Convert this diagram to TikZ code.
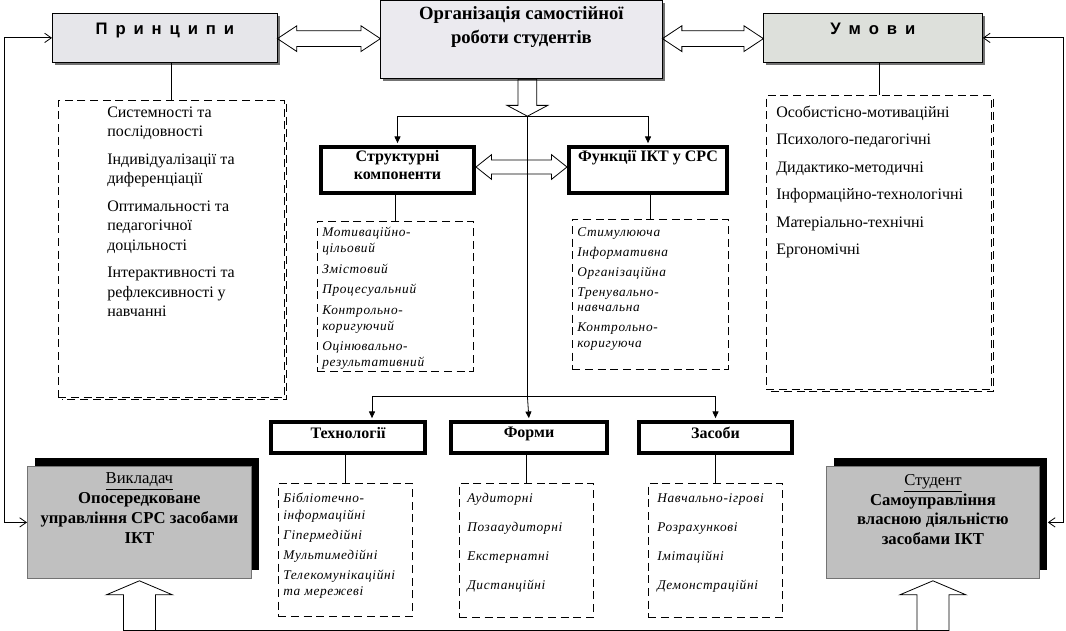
\documentclass[tikz,border=0pt]{standalone}
\usepackage{fontspec}
\setmainfont{Liberation Serif}
\newfontfamily\headsans[WordSpace=1.7]{Liberation Sans}
\newfontfamily\listserif[LetterSpace=5]{Liberation Serif}
\usetikzlibrary{positioning,calc,shapes.arrows,shadows,arrows.meta}
\definecolor{titlegray}{HTML}{EBEAEF}
\definecolor{princgray}{HTML}{E6E6EA}
\definecolor{umovygray}{HTML}{DDE0DB}
\definecolor{actorgray}{HTML}{C0C0C0}
\tikzset{
  boxframe/.style={draw, line width=0.6pt, inner sep=0pt, anchor=north west},
  headbox/.style={boxframe, fill=#1, drop shadow={shadow xshift=2pt, shadow yshift=-2pt, fill=black!55, opacity=1}},
  thickbox/.style={boxframe, line width=3pt},
  dashbox/.style={boxframe, dash pattern=on 6pt off 3.5pt},
  dashshadow/.style={line width=1.4pt, dash pattern=on 6pt off 3.5pt},
  actorbox/.style={boxframe, draw=black!55, fill=actorgray, drop shadow={shadow xshift=6pt, shadow yshift=6pt, fill=black, opacity=1}},
  sanshead/.style={inner sep=0pt, font=\headsans\bfseries\fontsize{12.5}{14}\selectfont},
  boldtext/.style={inner sep=0pt, align=center, font=\bfseries\fontsize{12}{13.5}\selectfont},
  actortext/.style={inner sep=0pt, align=center, font=\fontsize{12.5}{14.8}\selectfont},
  plainlist/.style={inner sep=0pt, align=left, font=\fontsize{12}{14.6}\selectfont},
  itlist/.style={inner sep=0pt, align=left, font=\listserif\itshape\fontsize{10}{#1}\selectfont},
  connector/.style={line width=0.6pt},
  branch/.style={line width=0.6pt, shorten >=1.4pt, -{Triangle[length=5pt,width=4.5pt]}},
  feedback/.style={line width=0.6pt, {Straight Barb[length=5pt,width=7pt]}-{Straight Barb[length=5pt,width=7pt]}},
  blockarrow/.style={draw, line width=0.6pt, inner xsep=0pt, inner ysep=#1},
  blockline/.style={line width=0.6pt}
}
\begin{document}
\begin{tikzpicture}[x=0.75pt, y=0.75pt]
\useasboundingbox (0,0) rectangle (1066,-631);
% top row
\node[headbox=princgray, minimum width=168.75pt, minimum height=36.75pt] (princ) at (52,-13) {};
\node[headbox=titlegray, minimum width=211.5pt, minimum height=58.5pt] (title) at (380,0) {};
\node[headbox=umovygray, minimum width=164.25pt, minimum height=36.75pt] (umovy) at (763,-13) {};
\node[sanshead, below=7.5pt of princ.north] (princtext) {П р и н ц и п и};
\node[boldtext, font=\bfseries\fontsize{14}{18}\selectfont, below=5pt of title.north] (titletext) {Організація самостійної\\роботи студентів};
\node[sanshead, below=7pt of umovy.north] (umovytext) {У м о в и};
\node[blockarrow=5.6pt, double arrow, double arrow head extend=3.75pt, double arrow tip angle=67,
      minimum height=77.25pt, minimum width=18.75pt] (arrleft) at ($(princ.east)!.5!(title.west)$) {};
\node[blockarrow=5.6pt, double arrow, double arrow head extend=3.75pt, double arrow tip angle=67,
      minimum height=75.75pt, minimum width=18.75pt] (arrright) at ($(title.east)!.5!(umovy.west)$) {};
\node[blockarrow=6.75pt, single arrow, rotate=-90, anchor=tail, single arrow head extend=8.25pt, single arrow tip angle=124,
      minimum height=27.75pt, minimum width=30pt] (darr) at ([xshift=4.5pt]title.south) {};

% side lists
\node[dashbox, minimum width=169.5pt, minimum height=222.75pt] (plist) at (58,-100) {};
\node[plainlist, below right=5pt and 36.75pt of plist.north west] (plisttext)
  {Системності та\\послідовності\\[6pt]Індивідуалізації та\\диференціації\\[6pt]Оптимальності та\\педагогічної\\доцільності\\[6pt]Інтерактивності та\\рефлексивності у\\навчанні};
\draw[dashshadow] ([shift={(1.3pt,-3pt)}]plist.north east) |- ([shift={(3pt,-1.3pt)}]plist.south west);
\node[dashbox, minimum width=168.75pt, minimum height=220.5pt] (ulist) at (766,-95) {};
\node[plainlist, below right=8pt and 7.5pt of ulist.north west] (ulisttext)
  {Особистісно-мотиваційні\\[6pt]Психолого-педагогічні\\[6pt]Дидактико-методичні\\[6pt]Інформаційно-технологічні\\[6pt]Матеріально-технічні\\[6pt]Ергономічні};
\draw[dashshadow] ([shift={(1.3pt,-3pt)}]ulist.north east) |- ([shift={(3pt,-1.3pt)}]ulist.south west);
\draw[connector] (plist.north) -- (plist.north |- princ.south);
\draw[connector] (ulist.north) -- (ulist.north |- umovy.south);

% middle row
\node[thickbox, minimum width=114.75pt, minimum height=34.5pt] (struct) at (319,-145) {};
\node[thickbox, minimum width=118.5pt, minimum height=34.5pt] (func) at (567,-145) {};
\node[boldtext, below=4pt of struct.north] (structtext) {Структурні\\компоненти};
\node[boldtext, below=4pt of func.north] (functext) {Функції ІКТ у СРС};
\node[blockarrow=4.9pt, double arrow, double arrow head extend=4.1pt, double arrow tip angle=77,
      minimum height=68.25pt, minimum width=18pt] (arrmid) at ($(struct.east)!.5!(func.west)+(0,3)$) {};
\node[dashbox, minimum width=117pt, minimum height=112.5pt] (slist) at (317,-221) {};
\node[itlist=12, below right=4.5pt and 3.75pt of slist.north west] (slisttext)
  {Мотиваційно-\\цільовий\\[3.4pt]Змістовий\\[3.4pt]Процесуальний\\[3.4pt]Контрольно-\\коригуючий\\[3.4pt]Оцінювально-\\результативний};
\node[dashbox, minimum width=117pt, minimum height=112.5pt] (flist) at (572,-219) {};
\node[itlist=11.8, below right=6pt and 3.75pt of flist.north west] (flisttext)
  {Стимулююча\\[3.2pt]Інформативна\\[3.2pt]Організаційна\\[3.2pt]Тренувально-\\навчальна\\[3.2pt]Контрольно-\\коригуюча};
\draw[connector] (slist.north) -- (slist.north |- struct.south);
\draw[connector] (flist.north) -- (flist.north |- func.south);

% lower row
\node[thickbox, minimum width=115.5pt, minimum height=23.25pt] (tech) at (269,-420) {};
\node[thickbox, minimum width=117pt, minimum height=23.25pt] (forms) at (449,-420) {};
\node[thickbox, minimum width=114.75pt, minimum height=23.25pt] (zasoby) at (637,-420) {};
\node[boldtext, below=5pt of tech.north] (techtext) {Технології};
\node[boldtext, below=5pt of forms.north] (formstext) {Форми};
\node[boldtext, below=5pt of zasoby.north] (zasobytext) {Засоби};
\node[dashbox, minimum width=100.5pt, minimum height=99.75pt] (tlist) at (278,-483) {};
\node[itlist=12.4, below right=7.5pt and 3.75pt of tlist.north west] (tlisttext)
  {Бібліотечно-\\інформаційні\\[2.6pt]Гіпермедійні\\[2.6pt]Мультимедійні\\[2.6pt]Телекомунікаційні\\та мережеві};
\node[dashbox, minimum width=100.5pt, minimum height=100.5pt] (formlist) at (459,-483) {};
\node[itlist=12, below right=7.5pt and 6pt of formlist.north west] (formlisttext)
  {Аудиторні\\[9.75pt]Позааудиторні\\[9.75pt]Екстернатні\\[9.75pt]Дистанційні};
\node[dashbox, minimum width=100.5pt, minimum height=100.5pt] (zlist) at (648,-483) {};
\node[itlist=12, below right=7.5pt and 6.75pt of zlist.north west] (zlisttext)
  {Навчально-ігрові\\[9.75pt]Розрахункові\\[9.75pt]Імітаційні\\[9.75pt]Демонстраційні};
\draw[connector] (tlist.north) -- (tlist.north |- tech.south);
\draw[connector] (formlist.north) -- (formlist.north |- forms.south);
\draw[connector] (zlist.north) -- (zlist.north |- zasoby.south);

% branches
\coordinate (split) at ($(darr.tip |- forms.north)+(0,24)$);
\draw[branch] (darr.tip) -| (struct.north);
\draw[branch] (darr.tip) -| (func.north);
\draw[connector] (darr.tip) -- (split);
\draw[branch] (split) -| ([xshift=18pt]tech.north);
\draw[branch] (split) -- (forms.north);
\draw[branch] (split) -| (zasoby.north);

% teacher and student
\node[actorbox, minimum width=168pt, minimum height=84pt] (vykl) at (27,-466) {};
\node[actorbox, minimum width=159.75pt, minimum height=84pt] (stud) at (826,-466) {};
\node[actortext, below=5pt of vykl.north] (vykltext)
  {\underline{Викладач}\\\textbf{Опосередковане}\\\textbf{управління СРС засобами}\\\textbf{ІКТ}};
\node[actortext, below=6pt of stud.north] (studtext)
  {\underline{Студент}\\\textbf{Самоуправління}\\\textbf{власною діяльністю}\\\textbf{засобами  ІКТ}};
\draw[feedback] (princ.west) -- ++(-48,0) |- (vykl.west);
\draw[feedback] (umovy.east) -- ++(81,0) |- ([xshift=6pt]stud.east);
\coordinate (vtip) at ([yshift=-1.5pt]vykl.south);
\coordinate (stip) at ([yshift=-1.5pt]stud.south);
\foreach \tip in {vtip,stip}
  \draw[blockline] (\tip) -- ++(33,-14) -- ++(-17,0) -- ++(0,-36) -- ++(-32,0) -- ++(0,36) -- ++(-17,0) -- cycle;
\draw[blockline] ([shift={(-16,-50)}]vtip) -- ([shift={(16,-50)}]stip);
\end{tikzpicture}
\end{document}
